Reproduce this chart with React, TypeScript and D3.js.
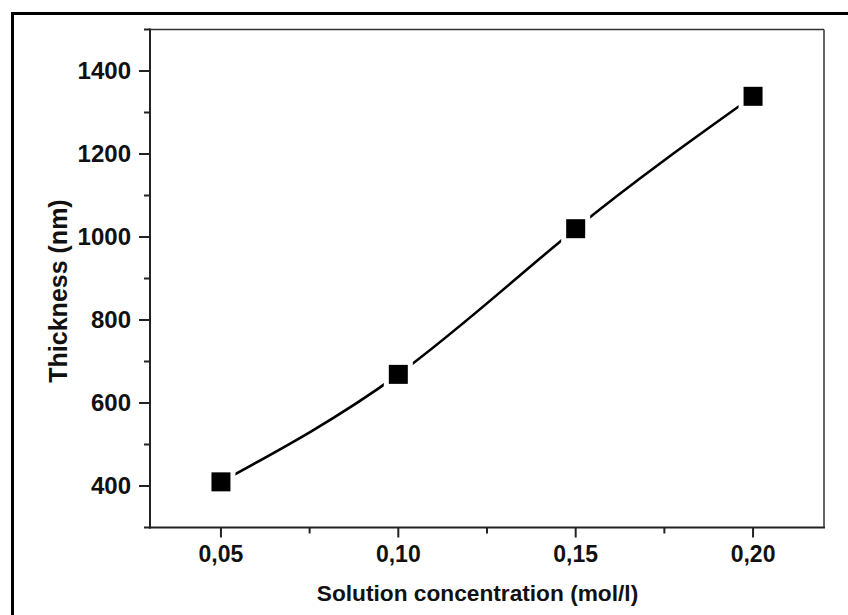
import React from "react";
import * as d3 from "d3";

const concentrations = [0.05, 0.1, 0.15, 0.2];
const thickness = [410, 669, 1020, 1339];
const yMajorTicks = [400, 600, 800, 1000, 1200, 1400];
const yMinorTicks = [300, 500, 700, 900, 1100, 1300, 1500];
const xMajorTicks = [0.05, 0.1, 0.15, 0.2];
const xMinorTicks = [0.075, 0.125, 0.175];
const xTitle = "Solution concentration (mol/l)";
const yTitle = "Thickness (nm)";

const W = 848;
const H = 615;
const left = 150;
const right = 824;
const top = 29.5;
const bottom = 527.5;
const FONT = "'Liberation Sans', Arial, sans-serif";

export default function App() {
  const x = d3.scaleLinear().domain([0.03, 0.22]).range([left, right]);
  const y = d3.scaleLinear().domain([300, 1500]).range([bottom, top]);
  const pts: [number, number][] = concentrations.map((c, i) => [x(c), y(thickness[i])]);
  const line = d3.line().curve(d3.curveNatural)(pts) || "";
  const ms = 19;
  const gap = 29;
  const fmt = (v: number) => v.toFixed(2).replace(".", ",");
  const axisColor = "#222";

  return (
    <svg width={W} height={H} style={{ position: "absolute", left: 0, top: 0, background: "#fff" }}>
      <defs>
        <mask id="gapMask" maskUnits="userSpaceOnUse" x={0} y={0} width={W} height={H}>
          <rect x={0} y={0} width={W} height={H} fill="#fff" />
          {pts.map((p, i) => (
            <rect key={i} x={p[0] - gap / 2} y={p[1] - gap / 2} width={gap} height={gap} fill="#000" />
          ))}
        </mask>
      </defs>
      <rect x={0} y={0} width={W} height={H} fill="#fff" />
      {/* outer frame */}
      <rect x={12.5} y={13.5} width={W + 20} height={H + 20} fill="none" stroke="#000" strokeWidth={3} />

      {/* plot frame top & right */}
      <line x1={left} y1={top} x2={right} y2={top} stroke="#333" strokeWidth={1.5} />
      <line x1={right} y1={top} x2={right} y2={bottom} stroke="#333" strokeWidth={1.5} />
      {/* axes */}
      <line x1={left} y1={top - 1} x2={left} y2={bottom + 1} stroke={axisColor} strokeWidth={2} />
      <line x1={left - 1} y1={bottom} x2={right + 1} y2={bottom} stroke={axisColor} strokeWidth={2} />

      {/* y ticks */}
      {yMajorTicks.map((t) => (
        <g key={"ym" + t}>
          <line x1={left - 11} x2={left} y1={y(t)} y2={y(t)} stroke={axisColor} strokeWidth={2} />
          <text
            x={left - 19}
            y={y(t)}
            dy="0.33em"
            textAnchor="end"
            fontFamily={FONT}
            fontWeight="bold"
            fontSize={24}
            fill="#111"
          >
            {t}
          </text>
        </g>
      ))}
      {yMinorTicks.map((t) => (
        <line key={"yn" + t} x1={left - 6} x2={left} y1={y(t)} y2={y(t)} stroke={axisColor} strokeWidth={2} />
      ))}

      {/* x ticks */}
      {xMajorTicks.map((t) => (
        <g key={"xm" + t}>
          <line x1={x(t)} x2={x(t)} y1={bottom} y2={bottom + 10} stroke={axisColor} strokeWidth={2} />
          <text
            x={x(t)}
            y={bottom + 34}
            textAnchor="middle"
            fontFamily={FONT}
            fontWeight="bold"
            fontSize={23}
            fill="#111"
          >
            {fmt(t)}
          </text>
        </g>
      ))}
      {xMinorTicks.map((t) => (
        <line key={"xn" + t} x1={x(t)} x2={x(t)} y1={bottom} y2={bottom + 6} stroke={axisColor} strokeWidth={2} />
      ))}

      {/* titles */}
      <text
        x={477.5}
        y={601}
        textAnchor="middle"
        fontFamily={FONT}
        fontWeight="bold"
        fontSize={22.7}
        fill="#111"
      >
        {xTitle}
      </text>
      <text
        transform={`translate(67, 291) rotate(-90)`}
        textAnchor="middle"
        fontFamily={FONT}
        fontWeight="bold"
        fontSize={25}
        fill="#111"
      >
        {yTitle}
      </text>

      {/* curve */}
      <path d={line} fill="none" stroke="#000" strokeWidth={2.6} mask="url(#gapMask)" />
      {pts.map((p, i) => (
        <rect key={"m" + i} x={p[0] - ms / 2} y={p[1] - ms / 2} width={ms} height={ms} fill="#000" />
      ))}
    </svg>
  );
}
